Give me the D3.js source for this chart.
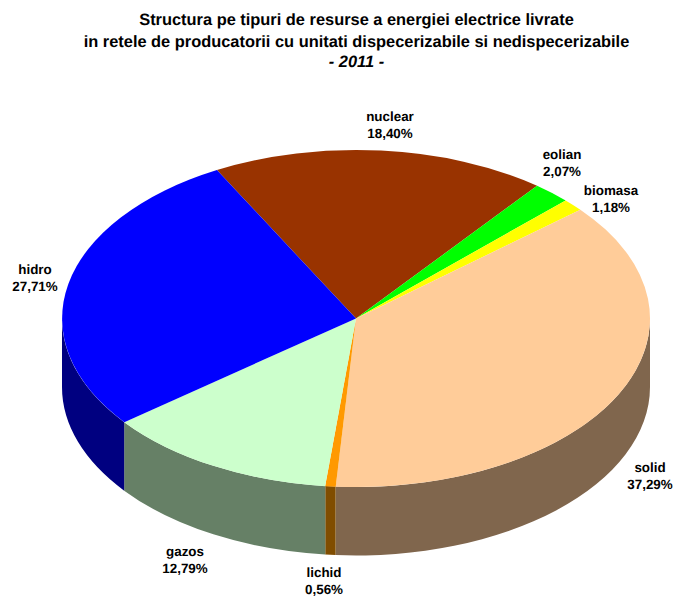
<!DOCTYPE html>
<html>
<head>
<meta charset="utf-8">
<script src="https://cdn.jsdelivr.net/npm/d3@7"></script>
<style>
html, body { margin: 0; background: #fff; }
svg { display: block; }
text { font-family: "Liberation Sans", Arial, sans-serif; font-weight: bold; fill: #000; text-rendering: geometricPrecision; }
</style>
</head>
<body>
<div id="pie_chart"></div>
<script>
var categories = ["nuclear", "eolian", "biomasa", "solid", "lichid", "gazos", "hidro"];
var shares = [18.40, 2.07, 1.18, 37.29, 0.56, 12.79, 27.71];
var colors = ["#993300", "#00ff00", "#ffff00", "#ffcc99", "#ff9900", "#ccffcc", "#0000ff"];
var titleLines = [
	"Structura pe tipuri de resurse a energiei electrice livrate",
	"in retele de producatorii cu unitati dispecerizabile si nedispecerizabile",
	"- 2011 -"
];

var w = 673,
	h = 596,
	cx = 356,
	cy = 318.5,
	rx = 294,
	ry = 168.5,
	depth = 68.5,
	rad = Math.PI / 180,
	start_angle = -28.2 * rad;

// centre of each label, same order as categories
var label_x = [390, 562, 611, 650, 324, 185, 35],
	label_y = [121, 159, 195, 471.5, 577, 556, 273.5];
var title_x = 356.5,
	title_y = [25, 46.5, 67];

var svg = d3.select("#pie_chart")
			.append("svg")
			.attr("width", w)
			.attr("height", h);

svg.selectAll(".title")
	.data(titleLines)
	.enter().append("text")
	.attr("class", "title")
	.attr("x", title_x)
	.attr("y", function(d, i) { return title_y[i]; })
	.attr("text-anchor", "middle")
	.style("font-size", "16.4px")
	.style("font-style", function(d, i) { return i == 2 ? "italic" : "normal"; })
	.text(function(d) { return d; });

var pie = d3.pie()
			.sort(null)
			.startAngle(start_angle)
			.endAngle(start_angle + 2 * Math.PI);

var slices = pie(shares);

// unit circle squashed into the tilted ellipse
var arc = d3.arc().innerRadius(0).outerRadius(1);

var px = function(a) { return cx + rx * Math.sin(a); };
var py = function(a) { return cy - ry * Math.cos(a); };

// the rim shows only on the front half, from 90 to 270 degrees
function rimPath(d) {
	var a0 = Math.max(d.startAngle, 90 * rad),
		a1 = Math.min(d.endAngle, 270 * rad);
	if (a1 <= a0) return null;
	return "M" + px(a0) + "," + py(a0)
		+ "A" + rx + "," + ry + " 0 0 1 " + px(a1) + "," + py(a1)
		+ "L" + px(a1) + "," + (py(a1) + depth)
		+ "A" + rx + "," + ry + " 0 0 0 " + px(a0) + "," + (py(a0) + depth)
		+ "Z";
}

function shade(c) {
	var col = d3.rgb(c);
	return d3.rgb(col.r / 2, col.g / 2, col.b / 2);
}

svg.append("g").selectAll("path")
	.data(slices)
	.enter().append("path")
	.attr("d", rimPath)
	.style("fill", function(d, i) { return shade(colors[i]); });

svg.append("g")
	.attr("transform", "translate(" + cx + "," + cy + ") scale(" + rx + "," + ry + ")")
	.selectAll("path")
	.data(slices)
	.enter().append("path")
	.attr("d", arc)
	.style("fill", function(d, i) { return colors[i]; });

var labels = svg.append("g").selectAll("g")
				.data(categories)
				.enter().append("g")
				.attr("transform", function(d, i) {
					return "translate(" + label_x[i] + "," + label_y[i] + ")";
				});

labels.append("text")
	.attr("text-anchor", "middle")
	.style("font-size", "13.4px")
	.text(function(d) { return d; });

labels.append("text")
	.attr("text-anchor", "middle")
	.attr("y", 17.2)
	.style("font-size", "13.4px")
	.text(function(d, i) { return shares[i].toFixed(2).replace(".", ",") + "%"; });
</script>
</body>
</html>
